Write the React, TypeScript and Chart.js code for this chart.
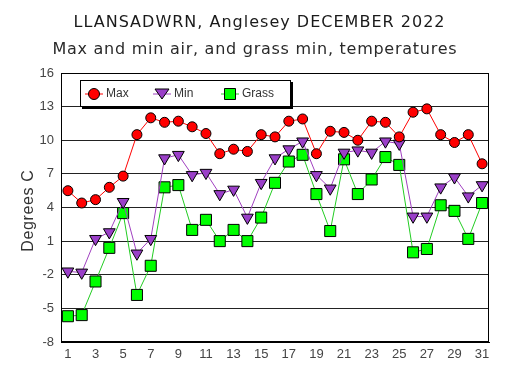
import React, { useEffect, useRef } from "react";
import { Chart, registerables } from "chart.js";

Chart.register(...registerables);

const days: string[] = Array.from({ length: 31 }, (_, i) => String(i + 1));
const maxTemps = [5.5, 4.4, 4.7, 5.8, 6.8, 10.5, 12.0, 11.6, 11.7, 11.2, 10.6, 8.8, 9.2, 9.0, 10.5, 10.3, 11.7, 11.9, 8.8, 10.8, 10.7, 10.0, 11.7, 11.6, 10.3, 12.5, 12.8, 10.5, 9.8, 10.5, 7.9];
const minTemps = [-1.7, -1.8, 1.2, 1.8, 4.5, -0.1, 1.2, 8.4, 8.7, 6.9, 7.1, 5.2, 5.6, 3.1, 6.2, 8.4, 9.2, 9.9, 6.9, 5.7, 8.9, 9.1, 8.9, 9.9, 9.7, 3.2, 3.2, 5.8, 6.7, 5.0, 6.0];
const grassTemps = [-5.7, -5.6, -2.6, 0.4, 3.5, -3.8, -1.2, 5.8, 6.0, 2.0, 2.9, 1.0, 2.0, 1.0, 3.1, 6.2, 8.1, 8.7, 5.2, 1.9, 8.3, 5.2, 6.5, 8.5, 7.8, 0.0, 0.3, 4.2, 3.7, 1.2, 4.4];
const titleLines = ["LLANSADWRN, Anglesey DECEMBER 2022", "Max and min air, and grass min, temperatures"];
const yTitle = "Degrees C";

const series = [
  { label: "Max", data: maxTemps, line: "#ff0000", fill: "#ff0000", style: "circle" },
  { label: "Min", data: minTemps, line: "#a040c0", fill: "#9a3fc8", style: "triangle" },
  { label: "Grass", data: grassTemps, line: "#22cc22", fill: "#00ff00", style: "rect" },
];

function drawMarker(ctx: CanvasRenderingContext2D, style: string, x: number, y: number, fill: string) {
  ctx.save();
  ctx.fillStyle = fill;
  ctx.strokeStyle = "#000";
  ctx.lineWidth = 1;
  ctx.beginPath();
  if (style === "circle") {
    ctx.arc(x, y, 5.5, 0, Math.PI * 2);
  } else if (style === "triangle") {
    ctx.moveTo(x - 7, y - 5);
    ctx.lineTo(x + 7, y - 5);
    ctx.lineTo(x, y + 5);
    ctx.closePath();
  } else {
    ctx.rect(x - 5.5, y - 5.5, 11, 11);
  }
  ctx.fill();
  ctx.stroke();
  ctx.restore();
}

function spacedText(ctx: any, text: string, x: number, y: number, target: number) {
  ctx.letterSpacing = "0px";
  const w = ctx.measureText(text).width;
  const sp = Math.max(-1, Math.min(3, (target - w) / Math.max(1, text.length)));
  ctx.letterSpacing = sp.toFixed(2) + "px";
  const w2 = ctx.measureText(text).width;
  ctx.textAlign = "left";
  ctx.fillText(text, x - w2 / 2 + sp / 2, y);
  ctx.letterSpacing = "0px";
}

const textPlugin = {
  id: "titles",
  afterDraw(chart: any) {
    const { ctx, chartArea } = chart;
    ctx.save();
    ctx.fillStyle = "#1a1a1a";
    ctx.textBaseline = "alphabetic";
    ctx.font = "16px 'DejaVu Sans', Verdana, sans-serif";
    spacedText(ctx, titleLines[0], 259, 27, 372);
    ctx.fillStyle = "#2a2a2a";
    spacedText(ctx, titleLines[1], 254.5, 54, 405);
    ctx.translate(29, 211);
    ctx.rotate(-Math.PI / 2);
    ctx.fillStyle = "#333";
    ctx.textBaseline = "middle";
    ctx.font = "16px 'Liberation Sans', Arial, sans-serif";
    spacedText(ctx, yTitle, 0, 0, 82);
    ctx.restore();

    const bx = chartArea.left + 19;
    const by = chartArea.top + 7;
    const bw = 211;
    const bh = 27;
    ctx.save();
    ctx.fillStyle = "#000";
    ctx.fillRect(bx + 2, by + 2, bw, bh);
    ctx.fillStyle = "#fff";
    ctx.fillRect(bx, by, bw, bh);
    ctx.strokeStyle = "#000";
    ctx.lineWidth = 1;
    ctx.strokeRect(bx + 0.5, by + 0.5, bw - 1, bh - 1);
    const cy = by + 14;
    const xs = [bx + 14, bx + 82, bx + 150];
    series.forEach((s, i) => {
      const mx = xs[i];
      ctx.strokeStyle = s.line;
      ctx.beginPath();
      ctx.moveTo(mx - 9, cy);
      ctx.lineTo(mx + 9, cy);
      ctx.stroke();
      drawMarker(ctx, s.style, mx, cy, s.fill);
      ctx.fillStyle = "#333";
      ctx.font = "12px 'Liberation Sans', Arial, sans-serif";
      ctx.textBaseline = "middle";
      ctx.textAlign = "left";
      ctx.fillText(s.label, mx + 12, cy);
    });
    ctx.restore();
  },
};

const borderPlugin = {
  id: "plotBorder",
  afterDatasetsDraw(chart: any) {
    const { ctx, chartArea } = chart;
    ctx.save();
    ctx.strokeStyle = "#000";
    ctx.lineWidth = 1;
    ctx.strokeRect(Math.round(chartArea.left) + 0.5, Math.round(chartArea.top) + 0.5, Math.round(chartArea.right - chartArea.left) - 1, Math.round(chartArea.bottom - chartArea.top) - 1);
    ctx.restore();
  },
};

export default function App() {
  const ref = useRef<HTMLCanvasElement>(null);
  useEffect(() => {
    if (!ref.current) return;
    const chart = new Chart(ref.current, {
      type: "line",
      data: {
        labels: days,
        datasets: series.map((s) => ({
          label: s.label,
          data: s.data,
          borderColor: s.line,
          borderWidth: 1,
          backgroundColor: s.fill,
          pointBackgroundColor: s.fill,
          pointBorderColor: "#000",
          pointBorderWidth: 1,
          pointStyle: s.style as any,
          pointRadius: s.style === "circle" ? 5 : s.style === "triangle" ? 6.8 : 7.8,
          pointRotation: s.style === "triangle" ? 180 : 0,
          tension: 0,
        })),
      },
      options: {
        animation: false,
        responsive: false,
        events: [],
        layout: { padding: { left: 0, right: 20, top: 73, bottom: 0 } },
        plugins: {
          legend: { display: false },
          tooltip: { enabled: false },
          title: { display: false },
        },
        scales: {
          x: {
            type: "category",
            offset: true,
            grid: { display: false, drawTicks: false },
            border: { display: true, color: "#000" },
            ticks: {
              autoSkip: false,
              maxRotation: 0,
              padding: 5,
              color: "#444",
              font: { family: "'Liberation Sans', Arial, sans-serif", size: 13 },
              callback: (_v: any, i: number) => (i % 2 === 0 ? days[i] : ""),
            },
            afterFit: (scale: any) => {
              scale.height = 34;
            },
          },
          y: {
            min: -8,
            max: 16,
            grid: { color: "#222", lineWidth: 1, drawTicks: false },
            border: { display: true, color: "#000" },
            ticks: {
              stepSize: 3,
              padding: 7,
              color: "#444",
              font: { family: "'Liberation Sans', Arial, sans-serif", size: 13 },
            },
            afterFit: (scale: any) => {
              scale.width = 61;
            },
          },
        },
      },
      plugins: [borderPlugin, textPlugin],
    });
    return () => chart.destroy();
  }, []);
  return (
    <div style={{ position: "fixed", left: 0, top: 0, width: 509, height: 376, background: "#fff" }}>
      <canvas ref={ref} width={509} height={376} />
    </div>
  );
}
